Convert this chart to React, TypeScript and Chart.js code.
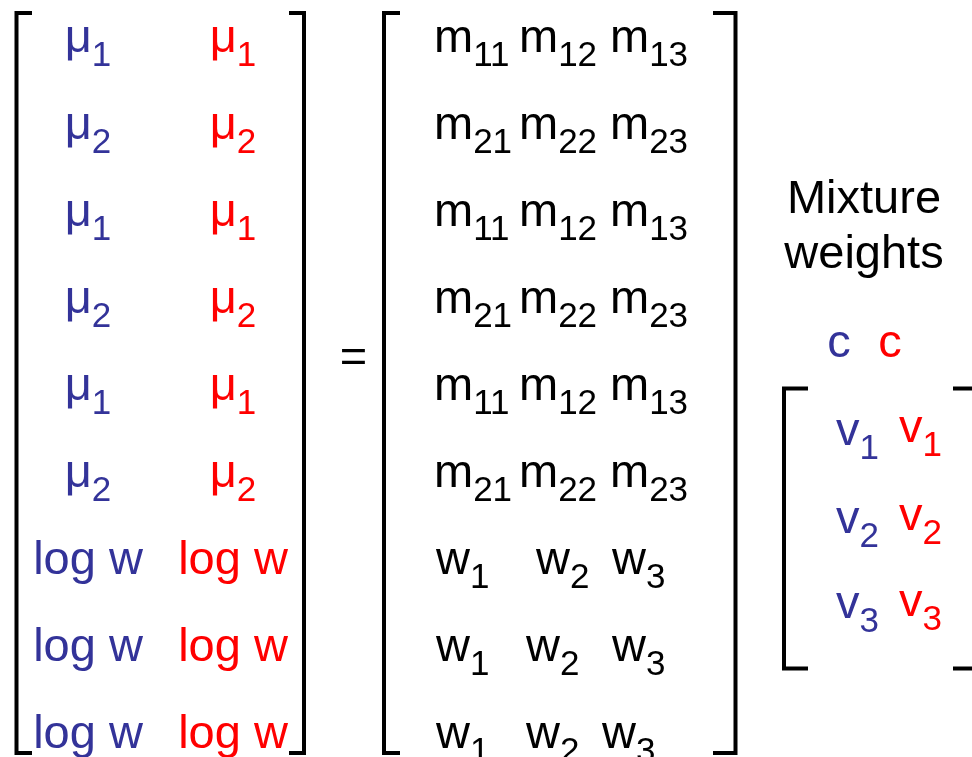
import React, { useEffect, useRef } from "react";
import { Chart, registerables } from "chart.js";

Chart.register(...registerables);

const BLUE = "#333399";
const RED = "#FF0000";
const BLACK = "#000000";
const FONT = '"Liberation Sans", Arial, sans-serif';
const MAIN_SIZE = 47;
const SUB_SIZE = 35;
const SUB_DROP = 14;

// Left matrix (two columns: blue, red)
const leftMain = ["μ", "μ", "μ", "μ", "μ", "μ", "log w", "log w", "log w"];
const leftSub = ["1", "2", "1", "2", "1", "2", "", "", ""];
const rowBaseline = [52, 139, 226, 313, 400, 487, 574, 661, 748];
const leftColCenter = [88, 233];
const leftColColor = [BLUE, RED];

// Middle matrix
const midMain = [
  ["m", "m", "m"],
  ["m", "m", "m"],
  ["m", "m", "m"],
  ["m", "m", "m"],
  ["m", "m", "m"],
  ["m", "m", "m"],
  ["w", "w", "w"],
  ["w", "w", "w"],
  ["w", "w", "w"],
];
const midSub = [
  ["11", "12", "13"],
  ["21", "22", "23"],
  ["11", "12", "13"],
  ["21", "22", "23"],
  ["11", "12", "13"],
  ["21", "22", "23"],
  ["1", "2", "3"],
  ["1", "2", "3"],
  ["1", "2", "3"],
];
const midColLeft = [
  [434, 519, 610],
  [434, 519, 610],
  [434, 519, 610],
  [434, 519, 610],
  [434, 519, 610],
  [434, 519, 610],
  [436, 536, 612],
  [436, 526, 612],
  [436, 526, 602],
];

// Equals sign
const equalsPos = { x: 353.5, y: 372 };

// Mixture weights block
const headerLines = ["Mixture", "weights"];
const headerY = [213, 268];
const headerX = 864;
const cLabels = ["c", "c"];
const cX = [839, 890];
const cY = 357;
const vMain = ["v", "v", "v"];
const vSub = ["1", "2", "3"];
const vBlueY = [445, 533, 618];
const vRedY = [442, 530, 616];
const vColLeft = [836, 899];

// Brackets (polylines)
const brackets: { x: number; y: number }[][] = [
  [{ x: 32, y: 13 }, { x: 16.5, y: 13 }, { x: 16.5, y: 753 }, { x: 32, y: 753 }],
  [{ x: 289, y: 13 }, { x: 304, y: 13 }, { x: 304, y: 753 }, { x: 289, y: 753 }],
  [{ x: 400, y: 13 }, { x: 384, y: 13 }, { x: 384, y: 753 }, { x: 400, y: 753 }],
  [{ x: 713, y: 13 }, { x: 735.5, y: 13 }, { x: 735.5, y: 753 }, { x: 713, y: 753 }],
  [{ x: 808, y: 388.5 }, { x: 784, y: 388.5 }, { x: 784, y: 668.5 }, { x: 808, y: 668.5 }],
  [{ x: 953, y: 388.5 }, { x: 980, y: 388.5 }, { x: 980, y: 668.5 }, { x: 953, y: 668.5 }],
];

type Cell = {
  main: string;
  sub: string;
  x: number;
  y: number;
  color: string;
  align: "left" | "center";
};

function buildCells(): Cell[] {
  const cells: Cell[] = [];
  rowBaseline.forEach((y, r) => {
    leftColCenter.forEach((x, c) => {
      cells.push({ main: leftMain[r], sub: leftSub[r], x, y, color: leftColColor[c], align: "center" });
    });
    midMain[r].forEach((m, c) => {
      cells.push({ main: m, sub: midSub[r][c], x: midColLeft[r][c], y, color: BLACK, align: "left" });
    });
  });
  cells.push({ main: "=", sub: "", x: equalsPos.x, y: equalsPos.y, color: BLACK, align: "center" });
  headerLines.forEach((t, i) => {
    cells.push({ main: t, sub: "", x: headerX, y: headerY[i], color: BLACK, align: "center" });
  });
  cLabels.forEach((t, i) => {
    cells.push({ main: t, sub: "", x: cX[i], y: cY, color: i === 0 ? BLUE : RED, align: "center" });
  });
  vMain.forEach((t, i) => {
    cells.push({ main: t, sub: vSub[i], x: vColLeft[0], y: vBlueY[i], color: BLUE, align: "left" });
    cells.push({ main: t, sub: vSub[i], x: vColLeft[1], y: vRedY[i], color: RED, align: "left" });
  });
  return cells;
}

const textPlugin = {
  id: "matrixText",
  afterDatasetsDraw(chart: any) {
    const ctx = chart.ctx as CanvasRenderingContext2D;
    const xs = chart.scales.x;
    const ys = chart.scales.y;
    const cells = buildCells();
    ctx.save();
    ctx.textBaseline = "alphabetic";
    ctx.textAlign = "left";
    for (const c of cells) {
      const px = xs.getPixelForValue(c.x);
      const py = ys.getPixelForValue(c.y);
      ctx.font = `${MAIN_SIZE}px ${FONT}`;
      const wMain = ctx.measureText(c.main).width;
      ctx.font = `${SUB_SIZE}px ${FONT}`;
      const wSub = c.sub ? ctx.measureText(c.sub).width : 0;
      const total = wMain + wSub;
      const start = c.align === "center" ? px - total / 2 : px;
      ctx.fillStyle = c.color;
      ctx.font = `${MAIN_SIZE}px ${FONT}`;
      ctx.fillText(c.main, start, py);
      if (c.sub) {
        ctx.font = `${SUB_SIZE}px ${FONT}`;
        ctx.fillText(c.sub, start + wMain, py + SUB_DROP);
      }
    }
    ctx.restore();
  },
};

export default function App() {
  const ref = useRef<HTMLCanvasElement | null>(null);
  useEffect(() => {
    document.body.style.margin = "0";
    const canvas = ref.current;
    if (!canvas) return;
    const chart = new Chart(canvas, {
      type: "scatter",
      data: {
        datasets: brackets.map((pts) => ({
          data: pts,
          showLine: true,
          borderColor: BLACK,
          backgroundColor: BLACK,
          borderWidth: 4,
          pointRadius: 0,
          pointHoverRadius: 0,
          tension: 0,
          fill: false,
          borderJoinStyle: "miter" as const,
        })),
      },
      options: {
        animation: false,
        responsive: false,
        events: [],
        layout: { padding: 0 },
        plugins: { legend: { display: false }, tooltip: { enabled: false }, title: { display: false } },
        scales: {
          x: { type: "linear", min: 0, max: 972, display: false },
          y: { type: "linear", min: 0, max: 757, reverse: true, display: false },
        },
      },
      plugins: [textPlugin],
    });
    return () => chart.destroy();
  }, []);
  return (
    <div style={{ width: 972, height: 757, background: "#ffffff" }}>
      <canvas ref={ref} width={972} height={757} style={{ display: "block" }} />
    </div>
  );
}
